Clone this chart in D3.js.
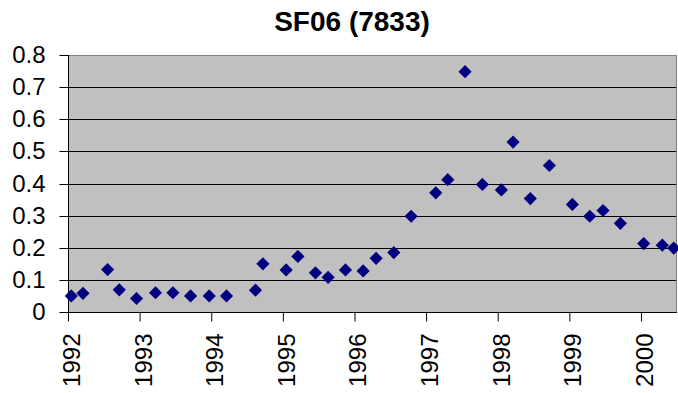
<!DOCTYPE html>
<html>
<head>
<meta charset="utf-8">
<script src="https://cdn.jsdelivr.net/npm/d3@7"></script>
<style>
  html, body { margin: 0; padding: 0; background: #fff; }
  svg { display: block; }
  text { font-family: "Liberation Sans", Arial, sans-serif; fill: #000; }
</style>
</head>
<body>
<svg id="chart" width="678" height="393"></svg>
<script>
// Data: sample time (decimal year) and SF06 concentration
const title = "SF06 (7833)";
const times = [
  1992.046, 1992.209, 1992.553, 1992.716, 1992.957, 1993.222, 1993.465, 1993.711,
  1993.972, 1994.213, 1994.618, 1994.721, 1995.046, 1995.210, 1995.455, 1995.632,
  1995.874, 1996.121, 1996.302, 1996.549, 1996.791, 1997.135, 1997.303, 1997.544,
  1997.786, 1998.051, 1998.214, 1998.455, 1998.721, 1999.042, 1999.285, 1999.470,
  1999.712, 2000.038, 2000.298, 2000.457
];
const values = [
  0.050, 0.058, 0.132, 0.069, 0.042, 0.060, 0.060, 0.050,
  0.050, 0.050, 0.068, 0.150, 0.131, 0.173, 0.122, 0.108,
  0.131, 0.128, 0.167, 0.185, 0.298, 0.371, 0.412, 0.748,
  0.397, 0.380, 0.529, 0.353, 0.456, 0.335, 0.298, 0.316,
  0.276, 0.213, 0.208, 0.199
];
const xTicks = [1992, 1993, 1994, 1995, 1996, 1997, 1998, 1999, 2000];
const yTicks = [0, 0.1, 0.2, 0.3, 0.4, 0.5, 0.6, 0.7, 0.8];
const xDomain = [1992, 2000.503];
const yDomain = [0, 0.8];

const svg = d3.select("#chart");
const pL = 68, pR = 677, pT = 55, pB = 312;

const x = d3.scaleLinear().domain(xDomain).range([pL, pR]);
const y = d3.scaleLinear().domain(yDomain).range([pB, pT]);

// plot background
svg.append("rect")
  .attr("x", pL).attr("y", pT)
  .attr("width", pR - pL).attr("height", pB - pT)
  .attr("fill", "#c0c0c0");

// gridlines
svg.append("g").selectAll("line")
  .data(yTicks.filter(d => d > 0 && d < 0.8))
  .join("line")
  .attr("x1", pL).attr("x2", pR)
  .attr("y1", d => Math.round(y(d)) + 0.5).attr("y2", d => Math.round(y(d)) + 0.5)
  .attr("stroke", "#000").attr("stroke-width", 1);

// plot border (top/right gray)
svg.append("path")
  .attr("d", `M${pL},${pT + 0.5}H${pR - 0.5}V${pB}`)
  .attr("fill", "none").attr("stroke", "#808080").attr("stroke-width", 1);

// y axis
const yAxis = d3.axisLeft(y).tickValues(yTicks).tickSize(9).tickPadding(14)
  .tickFormat(d3.format(".1~f"));
const gy = svg.append("g").attr("transform", `translate(${pL + 0.5},0)`).call(yAxis);
gy.select(".domain").attr("stroke", "#000").attr("d", `M0,${pT}V${pB}`);
gy.selectAll(".tick").attr("transform", d => `translate(0,${Math.round(y(d)) + 0.5})`);
gy.selectAll(".tick line").attr("stroke", "#000");
gy.selectAll(".tick text")
  .attr("x", -23)
  .style("font-size", "24px")
  .style("font-family", "'Liberation Sans', Arial, sans-serif")
  .attr("fill", "#000");

// x axis
const xAxis = d3.axisBottom(x).tickValues(xTicks).tickSize(9).tickFormat(d3.format("d"));
const gx = svg.append("g").attr("transform", `translate(0,${pB + 0.5})`).call(xAxis);
gx.select(".domain").attr("stroke", "#000").attr("d", `M${pL},0H${pR}`);
gx.selectAll(".tick line").attr("stroke", "#000");
gx.selectAll(".tick text")
  .attr("y", 0).attr("dy", 0)
  .attr("text-anchor", "end")
  .attr("transform", "translate(11.5,21) rotate(-90)")
  .style("font-size", "24px")
  .style("font-family", "'Liberation Sans', Arial, sans-serif")
  .attr("fill", "#000");

// markers (diamonds)
const r = 6.6;
const diamond = `M0,${-r}L${r},0L0,${r}L${-r},0Z`;
svg.append("g").selectAll("path")
  .data(times.map((t, i) => ({ t, v: values[i] })))
  .join("path")
  .attr("d", diamond)
  .attr("transform", d => `translate(${x(d.t)},${y(d.v)})`)
  .attr("fill", "#000080");

// title
svg.append("text")
  .attr("x", 352).attr("y", 31)
  .attr("text-anchor", "middle")
  .style("font-size", "28px")
  .style("font-weight", "bold")
  .text(title);
</script>
</body>
</html>
